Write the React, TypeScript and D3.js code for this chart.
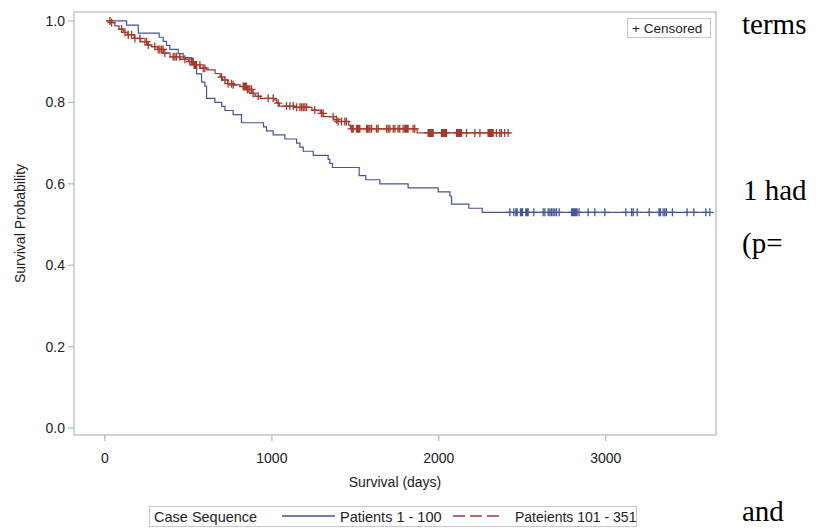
import React from 'react';
import * as d3 from 'd3';

// Kaplan-Meier steps: [day, survival after the event]
const blueSteps: [number, number][] = [
  [40, 1.0], [130, 0.99], [200, 0.97], [325, 0.96], [349, 0.95], [369, 0.94],
  [389, 0.93], [439, 0.92], [469, 0.91], [519, 0.9], [539, 0.89], [549, 0.87],
  [579, 0.85], [599, 0.84], [609, 0.81], [659, 0.8], [700, 0.79], [719, 0.78],
  [768, 0.77], [818, 0.75], [950, 0.74], [968, 0.73], [1008, 0.72], [1078, 0.71],
  [1148, 0.7], [1168, 0.69], [1188, 0.68], [1248, 0.67], [1337, 0.66], [1347, 0.65],
  [1363, 0.64], [1523, 0.62], [1563, 0.61], [1647, 0.6], [1816, 0.59], [1996, 0.58],
  [2066, 0.57], [2076, 0.55], [2180, 0.54], [2260, 0.53],
];
const blueEnd = 3623;
const blueCensored = [
  2425, 2449, 2461, 2469, 2489, 2495, 2501, 2521, 2529, 2535, 2569, 2625, 2635,
  2655, 2665, 2675, 2685, 2695, 2705, 2721, 2795, 2800, 2808, 2814, 2820, 2828,
  2840, 2894, 2934, 2994, 3120, 3154, 3164, 3188, 3260, 3319, 3327, 3343, 3353,
  3363, 3399, 3487, 3527, 3599, 3623,
];

const redSteps: [number, number][] = [
  [10, 1.0], [35, 0.996], [60, 0.988], [85, 0.98], [110, 0.972], [135, 0.966],
  [175, 0.957], [215, 0.949], [255, 0.941], [280, 0.937], [315, 0.93], [350, 0.921],
  [390, 0.912], [450, 0.906], [500, 0.9], [530, 0.892], [570, 0.884], [610, 0.88],
  [660, 0.871], [690, 0.862], [705, 0.855], [735, 0.846], [760, 0.843], [810, 0.839],
  [850, 0.832], [880, 0.822], [900, 0.815], [930, 0.81], [1010, 0.806], [1030, 0.798],
  [1045, 0.791], [1130, 0.788], [1240, 0.781], [1290, 0.773], [1310, 0.765],
  [1370, 0.758], [1390, 0.753], [1460, 0.744], [1470, 0.735], [1870, 0.725],
];
const redEnd = 2425;
const redCensored = [
  30, 40, 100, 120, 140, 160, 180, 210, 240, 250, 260, 299, 319, 329, 339, 349,
  359, 409, 419, 429, 449, 479, 509, 519, 524, 529, 534, 539, 544, 549, 569, 589,
  599, 699, 719, 738, 758, 768, 828, 833, 838, 843, 848, 853, 858, 868, 878, 888,
  918, 978, 1008, 1038, 1088, 1108, 1128, 1148, 1168, 1178, 1188, 1198, 1208,
  1257, 1297, 1307, 1367, 1387, 1397, 1417, 1437, 1447, 1477, 1482, 1487, 1507,
  1512, 1517, 1522, 1527, 1567, 1572, 1577, 1587, 1597, 1627, 1637, 1687, 1697,
  1707, 1727, 1737, 1756, 1766, 1786, 1796, 1801, 1806, 1811, 1816, 1846, 1856,
  1936, 1941, 1946, 1951, 1956, 1961, 1966, 2016, 2021, 2026, 2031, 2036, 2041,
  2046, 2106, 2111, 2116, 2121, 2126, 2131, 2136, 2166, 2216, 2246, 2295, 2300,
  2305, 2310, 2315, 2320, 2325, 2345, 2365, 2375, 2395, 2415,
];

const xTicks = [0, 1000, 2000, 3000];
const yTicks = [0, 0.2, 0.4, 0.6, 0.8, 1.0];

const BLUE = '#445694';
const RED = '#A23A2E';
const FRAME = '#b4b9bd';
const SANS = '"Liberation Sans", Arial, sans-serif';
const SERIF = '"Liberation Serif", "Times New Roman", serif';

const W = 826, H = 529;
const plot = { left: 74, right: 716, top: 12, bottom: 435 };

const x = d3.scaleLinear().domain([-185, 3660]).range([plot.left, plot.right]);
const y = d3.scaleLinear().domain([-0.017, 1.022]).range([plot.bottom, plot.top]);

const line = d3.line<[number, number]>()
  .x(d => x(d[0]))
  .y(d => y(d[1]))
  .curve(d3.curveStepAfter);

// survival value at time t, for placing a censor mark on its curve
const survAt = (steps: [number, number][], t: number) => {
  let s = steps[0][1];
  for (const [tt, ss] of steps) if (tt <= t) s = ss;
  return s;
};

const curvePath = (steps: [number, number][], end: number) =>
  line([...steps, [end, steps[steps.length - 1][1]]]) as string;

const plusPath = (px: number, py: number, r = 4) =>
  `M${px - r},${py}H${px + r}M${px},${py - r}V${py + r}`;

const Curve = ({ steps, end, censored, color }:
  { steps: [number, number][]; end: number; censored: number[]; color: string }) => (
  <g>
    <path d={curvePath(steps, end)} fill="none" stroke={color} strokeWidth={1.2} />
    <path
      d={censored.map(t => plusPath(x(t), y(survAt(steps, t)))).join('')}
      fill="none" stroke={color} strokeWidth={1.3}
    />
  </g>
);

export default function App() {
  return (
    <svg width={W} height={H} style={{ position: 'absolute', left: 0, top: 0, background: '#fff' }}
      fontFamily={SANS}>
      <rect width={W} height={H} fill="#fff" />

      {/* plot frame */}
      <rect x={plot.left} y={plot.top} width={plot.right - plot.left} height={plot.bottom - plot.top}
        fill="none" stroke={FRAME} strokeWidth={1.2} />

      {/* y axis */}
      {yTicks.map(v => (
        <g key={v}>
          <line x1={plot.left - 6} x2={plot.left} y1={y(v)} y2={y(v)} stroke={FRAME} strokeWidth={1.2} />
          <text x={plot.left - 9} y={y(v)} dy="0.36em" textAnchor="end" fontSize={14} fill="#222">
            {d3.format('.1f')(v)}
          </text>
        </g>
      ))}
      <text transform={`translate(25,${(plot.top + plot.bottom) / 2}) rotate(-90)`} textAnchor="middle"
        fontSize={14} fill="#222">Survival Probability</text>

      {/* x axis */}
      {xTicks.map(v => (
        <g key={v}>
          <line x1={x(v)} x2={x(v)} y1={plot.bottom} y2={plot.bottom + 6} stroke={FRAME} strokeWidth={1.2} />
          <text x={x(v)} y={plot.bottom + 28} textAnchor="middle" fontSize={14} fill="#222">{v}</text>
        </g>
      ))}
      <text x={(plot.left + plot.right) / 2} y={487} textAnchor="middle" fontSize={14} fill="#222">
        Survival (days)
      </text>

      {/* curves */}
      <Curve steps={blueSteps} end={blueEnd} censored={blueCensored} color={BLUE} />
      <Curve steps={redSteps} end={redEnd} censored={redCensored} color={RED} />

      {/* censored inset legend */}
      <rect x={627.5} y={18.5} width={83} height={19} fill="#fff" stroke="#c8c8c8" />
      <text x={632} y={33} fontSize={13.5} fill="#222">+ Censored</text>

      {/* bottom legend */}
      <rect x={149.5} y={506.5} width={487} height={20} fill="#fff" stroke="#c8c8c8" />
      <text x={154} y={522} fontSize={14.5} fill="#222">Case Sequence</text>
      <line x1={282} x2={335} y1={516} y2={516} stroke={BLUE} strokeWidth={1.3} />
      <text x={340} y={522} fontSize={14.5} fill="#222">Patients 1 - 100</text>
      <line x1={453} x2={500} y1={516} y2={516} stroke={RED} strokeWidth={1.3} strokeDasharray="12,5" />
      <text x={515} y={522} fontSize={14} fill="#222">Pateients 101 - 351</text>

      {/* surrounding document text */}
      <g fontFamily={SERIF} fontSize={29} fill="#000">
        <text x={742} y={34}>terms</text>
        <text x={743} y={200}>1 had</text>
        <text x={742} y={253}>(p=</text>
        <text x={742} y={521}>and</text>
      </g>
    </svg>
  );
}
